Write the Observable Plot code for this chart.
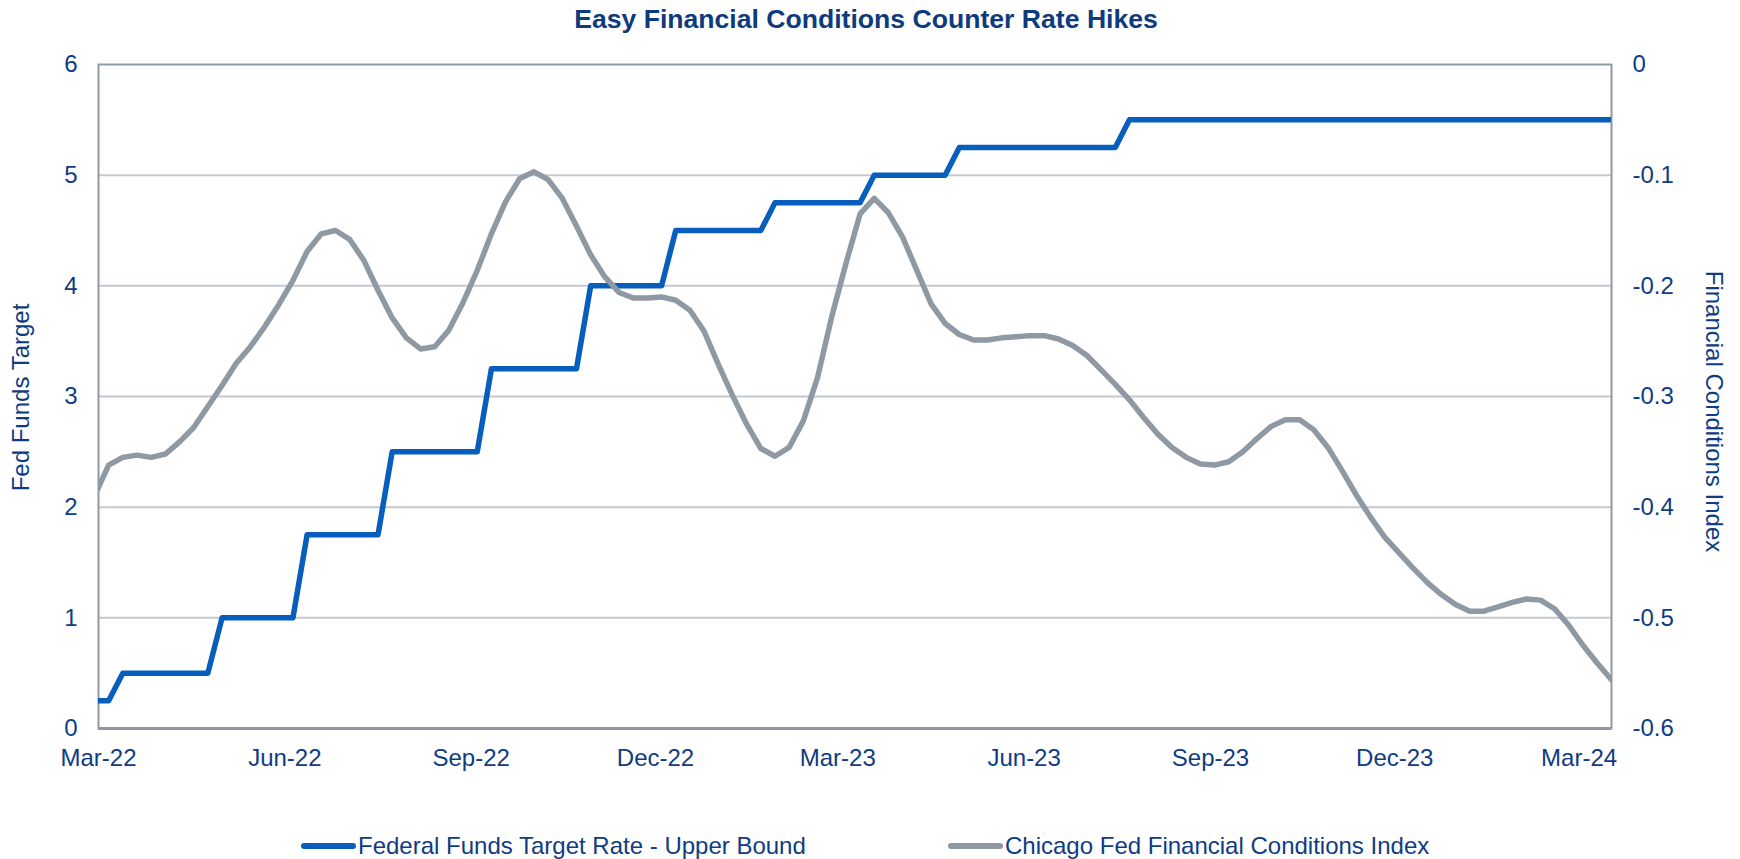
<!DOCTYPE html>
<html>
<head>
<meta charset="utf-8">
<script src="https://cdn.jsdelivr.net/npm/d3@7"></script>
<script src="https://cdn.jsdelivr.net/npm/@observablehq/plot@0.6"></script>
<style>
  html, body { margin: 0; padding: 0; background: #ffffff; }
  #wrap { position: relative; width: 1740px; height: 859px; font-family: "Liberation Sans", Arial, sans-serif; color: #0F3C82; }
  #title { position: absolute; left: -4px; top: 6px; width: 1740px; text-align: center; font-size: 26.6px; line-height: 26px; font-weight: bold; color: #0E3A7E; }
  .leg { position: absolute; top: 834px; display: flex; align-items: center; font-size: 24px; line-height: 24px; color: #0F3C82; }
  .sw { display: inline-block; width: 55px; height: 6px; border-radius: 3px; margin-right: 2px; }
  #chart { position: absolute; left: 0; top: 0; }
</style>
</head>
<body>
<div id="wrap">
  <div id="chart"></div>
  <div id="title">Easy Financial Conditions Counter Rate Hikes</div>
  <div class="leg" style="left:301px"><span class="sw" style="background:#075EBD"></span>Federal Funds Target Rate - Upper Bound</div>
  <div class="leg" style="left:948px"><span class="sw" style="background:#8E99A3"></span>Chicago Fed Financial Conditions Index</div>
</div>
<script>
// Weekly observations (Fridays), 4 Mar 2022 – 22 Mar 2024
const firstWeek = "2022-03-04";
const lastWeek = "2024-03-22";

// Federal Funds Target Rate - Upper Bound (%), one value per week
const fedFunds = [
  0.25, 0.25,
  0.5, 0.5, 0.5, 0.5, 0.5, 0.5, 0.5,
  1.0, 1.0, 1.0, 1.0, 1.0, 1.0,
  1.75, 1.75, 1.75, 1.75, 1.75, 1.75,
  2.5, 2.5, 2.5, 2.5, 2.5, 2.5, 2.5,
  3.25, 3.25, 3.25, 3.25, 3.25, 3.25, 3.25,
  4.0, 4.0, 4.0, 4.0, 4.0, 4.0,
  4.5, 4.5, 4.5, 4.5, 4.5, 4.5, 4.5,
  4.75, 4.75, 4.75, 4.75, 4.75, 4.75, 4.75,
  5.0, 5.0, 5.0, 5.0, 5.0, 5.0,
  5.25, 5.25, 5.25, 5.25, 5.25, 5.25, 5.25, 5.25, 5.25, 5.25, 5.25, 5.25,
  5.5, 5.5, 5.5, 5.5, 5.5, 5.5, 5.5, 5.5, 5.5, 5.5,
  5.5, 5.5, 5.5, 5.5, 5.5, 5.5, 5.5, 5.5, 5.5, 5.5,
  5.5, 5.5, 5.5, 5.5, 5.5, 5.5, 5.5, 5.5, 5.5, 5.5,
  5.5, 5.5, 5.5, 5.5, 5.5
];

// Chicago Fed National Financial Conditions Index, one value per week
const nfci = [
  -0.390, -0.362, -0.355, -0.353, -0.355, -0.352, -0.341, -0.328, -0.309, -0.290,
  -0.270, -0.255, -0.237, -0.217, -0.195, -0.169, -0.153, -0.150, -0.158, -0.177,
  -0.204, -0.229, -0.247, -0.257, -0.255, -0.240, -0.215, -0.186, -0.153, -0.124,
  -0.103, -0.097, -0.104, -0.121, -0.146, -0.172, -0.192, -0.206, -0.211, -0.211,
  -0.210, -0.213, -0.222, -0.241, -0.271, -0.299, -0.325, -0.347, -0.354, -0.346,
  -0.322, -0.283, -0.228, -0.180, -0.135, -0.121, -0.134, -0.156, -0.186, -0.216,
  -0.234, -0.244, -0.249, -0.249, -0.247, -0.246, -0.245, -0.245, -0.248, -0.254,
  -0.263, -0.276, -0.289, -0.303, -0.319, -0.334, -0.346, -0.355, -0.361, -0.362,
  -0.359, -0.350, -0.338, -0.327, -0.321, -0.321, -0.330, -0.346, -0.367, -0.389,
  -0.409, -0.427, -0.441, -0.455, -0.468, -0.479, -0.488, -0.494, -0.494, -0.490,
  -0.486, -0.483, -0.484, -0.492, -0.507, -0.525, -0.541, -0.556
];

// Axes
const axisStart = "2022-03-06";
const axisEnd = "2024-03-22";
const xTickDates = ["2022-03-06", "2022-06-06", "2022-09-06", "2022-12-06", "2023-03-06",
                    "2023-06-06", "2023-09-06", "2023-12-06", "2024-03-06"];
const leftTicks = [0, 1, 2, 3, 4, 5, 6];
const rightTicks = [0, -0.1, -0.2, -0.3, -0.4, -0.5, -0.6];
const leftTitle = "Fed Funds Target";
const rightTitle = "Financial Conditions Index";

// Colours
const navy = "#0F3C82";
const blue = "#075EBD";
const gray = "#8E99A3";
const gridColor = "#C4CAD0";

// Build tables
const weeks = d3.utcFriday.range(new Date(firstWeek), d3.utcDay.offset(new Date(lastWeek), 1));
const fedRows = weeks.map((d, i) => ({date: d, value: fedFunds[i]}));
const fciRows = weeks.map((d, i) => ({date: d, value: nfci[i]}));

// Right axis (-0.6..0) mapped onto the left axis range (0..6)
const rightMin = -0.6, rightMax = 0, leftMin = 0, leftMax = 6;
const toLeft = v => leftMin + (v - rightMin) / (rightMax - rightMin) * (leftMax - leftMin);
const fromLeft = p => rightMin + (p - leftMin) / (leftMax - leftMin) * (rightMax - rightMin);
const fmtRight = p => { const v = Math.round(fromLeft(p) * 10) / 10; return v === 0 ? "0" : v.toFixed(1); };

const chart = Plot.plot({
  width: 1740,
  height: 859,
  marginLeft: 98,
  marginRight: 129,
  marginTop: 64,
  marginBottom: 131,
  style: {fontFamily: "'Liberation Sans', Arial, sans-serif", fontSize: "24px", color: navy, background: "transparent"},
  x: {type: "utc", domain: [new Date(axisStart), new Date(axisEnd)]},
  y: {domain: [leftMin, leftMax]},
  marks: [
    Plot.gridY(leftTicks.filter(t => t > leftMin && t < leftMax), {stroke: gridColor, strokeOpacity: 1, strokeWidth: 2}),
    Plot.frame({stroke: gray, strokeWidth: 2}),
    Plot.ruleY([leftMin], {stroke: gray, strokeWidth: 3}),
    Plot.lineY(fedRows, {x: "date", y: "value", stroke: blue, strokeWidth: 5.5, strokeLinejoin: "round", strokeLinecap: "round", clip: true}),
    Plot.lineY(fciRows, {x: "date", y: d => toLeft(d.value), stroke: gray, strokeWidth: 5.5, strokeLinejoin: "round", strokeLinecap: "round", clip: true}),
    Plot.axisY(leftTicks, {anchor: "left", tickSize: 0, tickPadding: 21, tickFormat: d => String(d), label: null, fontSize: 24, fill: navy}),
    Plot.axisY(rightTicks.map(toLeft), {anchor: "right", tickSize: 0, tickPadding: 21, tickFormat: fmtRight, label: null, fontSize: 24, fill: navy}),
    Plot.axisX(xTickDates.map(s => new Date(s)), {anchor: "bottom", tickSize: 0, tickPadding: 20, tickFormat: d3.utcFormat("%b-%y"), label: null, fontSize: 24, fill: navy}),
    Plot.text([leftTitle], {text: d => d, frameAnchor: "left", textAnchor: "middle", rotate: -90, dx: -77, dy: 1, fontSize: 24, fill: navy}),
    Plot.text([rightTitle], {text: d => d, frameAnchor: "right", textAnchor: "middle", rotate: 90, dx: 102, dy: 15, fontSize: 24, fill: navy})
  ]
});
document.getElementById("chart").appendChild(chart);
</script>
</body>
</html>
